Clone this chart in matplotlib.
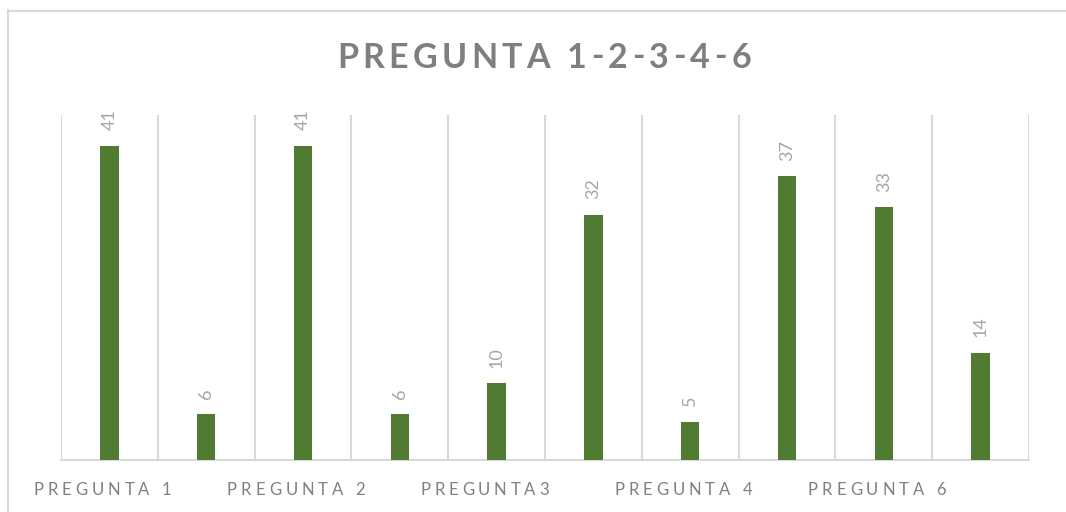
import matplotlib
matplotlib.use("Agg")
import matplotlib.pyplot as plt
from matplotlib.lines import Line2D

# data
values = [41, 6, 41, 6, 10, 32, 5, 37, 33, 14]
question_labels = ["PREGUNTA 1", "PREGUNTA 2", "PREGUNTA3", "PREGUNTA 4", "PREGUNTA 6"]
title = "PREGUNTA 1-2-3-4-6"

bar_color = "#507C32"
grid_color = "#D9D9D9"
label_color = "#A6A6A6"
axis_text_color = "#808080"
title_color = "#7F7F7F"
font = ["Lato", "DejaVu Sans"]

W, H = 1066, 512
fig = plt.figure(figsize=(W / 100, H / 100), dpi=100)
renderer = fig.canvas.get_renderer()


def advance(ch, **kw):
    # advance width of one char, measured between two x's
    def w(s):
        t = fig.text(0, 0, s, **kw)
        bb = t.get_window_extent(renderer)
        t.remove()
        return bb.width
    return w("x" + ch + "x") - w("xx")


def tracked_text(s, x_left, y_base, total_w, **kw):
    # Excel-like letter spacing: chars placed one by one (pixels, from bottom-left)
    adv = [advance(ch, **kw) for ch in s]
    track = (total_w - sum(adv)) / (len(s) - 1)
    x = x_left
    for ch, a in zip(s, adv):
        fig.text(x / W, y_base / H, ch, ha="left", va="baseline", **kw)
        x += a + track


ax = fig.add_axes([61 / W, 1 - 460 / H, (1029 - 61) / W, (460 - 115) / H])

x = list(range(len(values)))
ax.bar(x, values, width=0.19, color=bar_color, zorder=3)
ax.set_xlim(-0.5, len(values) - 0.5)
ax.set_ylim(0, 45)

# vertical gridlines between categories
for b in range(len(values) + 1):
    ax.axvline(b - 0.5, color=grid_color, lw=1.5, zorder=1)

for i, v in enumerate(values):
    ax.annotate(str(v), (i, v), xytext=(0, 11), textcoords="offset points",
                rotation=90, ha="center", va="bottom", color=label_color,
                fontsize=13, family=font)

for s in ["top", "left", "right"]:
    ax.spines[s].set_visible(False)
ax.spines["bottom"].set_color(grid_color)
ax.spines["bottom"].set_linewidth(1.5)
ax.set_yticks([])
ax.set_xticks([])

# category labels, one per pair of bars
for k, q in enumerate(question_labels):
    cx = ax.transData.transform((2 * k, 0))[0]
    tracked_text(q, cx - 76, 17, 138 if " " in q else 128,
                 fontsize=12, color=axis_text_color, family=font)

tracked_text(title, 337, 444.5, 414, fontsize=24.5, fontweight="bold",
             color=title_color, family=font)

# chart frame (cut off on the right and bottom)
fig.add_artist(Line2D([7.5 / W, 7.5 / W], [0, 1 - 10 / H], color=grid_color, lw=1.5))
fig.add_artist(Line2D([7.5 / W, 1], [1 - 10.5 / H, 1 - 10.5 / H], color=grid_color, lw=1.5))

fig.savefig("out.png", dpi=100)
